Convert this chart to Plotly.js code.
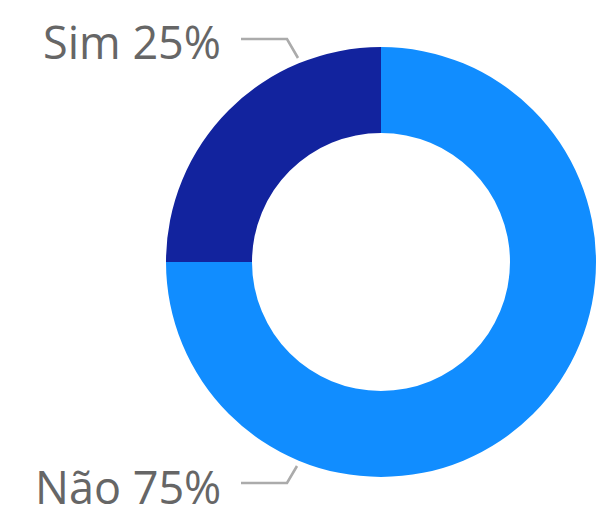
<!DOCTYPE html>
<html>
<head>
<meta charset="utf-8">
<script src="https://cdn.plot.ly/plotly-3.0.1.min.js"></script>
<style>html,body{margin:0;padding:0;background:#fff;}#chart{width:613px;height:508px;}</style>
</head>
<body>
<div id="chart"></div>
<script>
const categories = ["Não", "Sim"];
const values = [75, 25];
const colors = ["#118DFF", "#12239E"];
const W = 613, H = 508;
const px = x => x / W;
const py = y => 1 - y / H;

const labelPos = [
  {x: 223, y: 486, line: [[241, 483], [287, 483], [297, 466]]},
  {x: 223, y: 42, line: [[241, 39], [287, 39], [298, 58]]}
];

const total = values.reduce((a, b) => a + b, 0);
const annotations = categories.map((c, i) => ({
  text: c + " " + Math.round(values[i] / total * 100) + "%",
  x: px(labelPos[i].x), y: py(labelPos[i].y), xref: "paper", yref: "paper",
  xanchor: "right", yanchor: "middle", showarrow: false,
  font: {family: "Open Sans, Noto Sans, sans-serif", size: 45, color: "#666666", weight: 400}
}));
const shapes = labelPos.map(p => ({
  type: "path", xref: "paper", yref: "paper",
  path: p.line.map((pt, k) => (k ? "L" : "M") + px(pt[0]) + "," + py(pt[1])).join(" "),
  line: {color: "#ABABAB", width: 2.6}
}));

Plotly.newPlot("chart", [{
  type: "pie", labels: categories, values: values, hole: 0.6,
  sort: false, direction: "clockwise", rotation: 0,
  marker: {colors: colors, line: {width: 0}},
  textinfo: "none", hoverinfo: "label+percent",
  domain: {x: [166 / W, 596 / W], y: [31 / H, 461 / H]}
}], {
  width: W, height: H, margin: {l: 0, r: 0, t: 0, b: 0},
  showlegend: false, paper_bgcolor: "#fff",
  annotations: annotations, shapes: shapes
}, {displayModeBar: false, staticPlot: true});
</script>
</body>
</html>
